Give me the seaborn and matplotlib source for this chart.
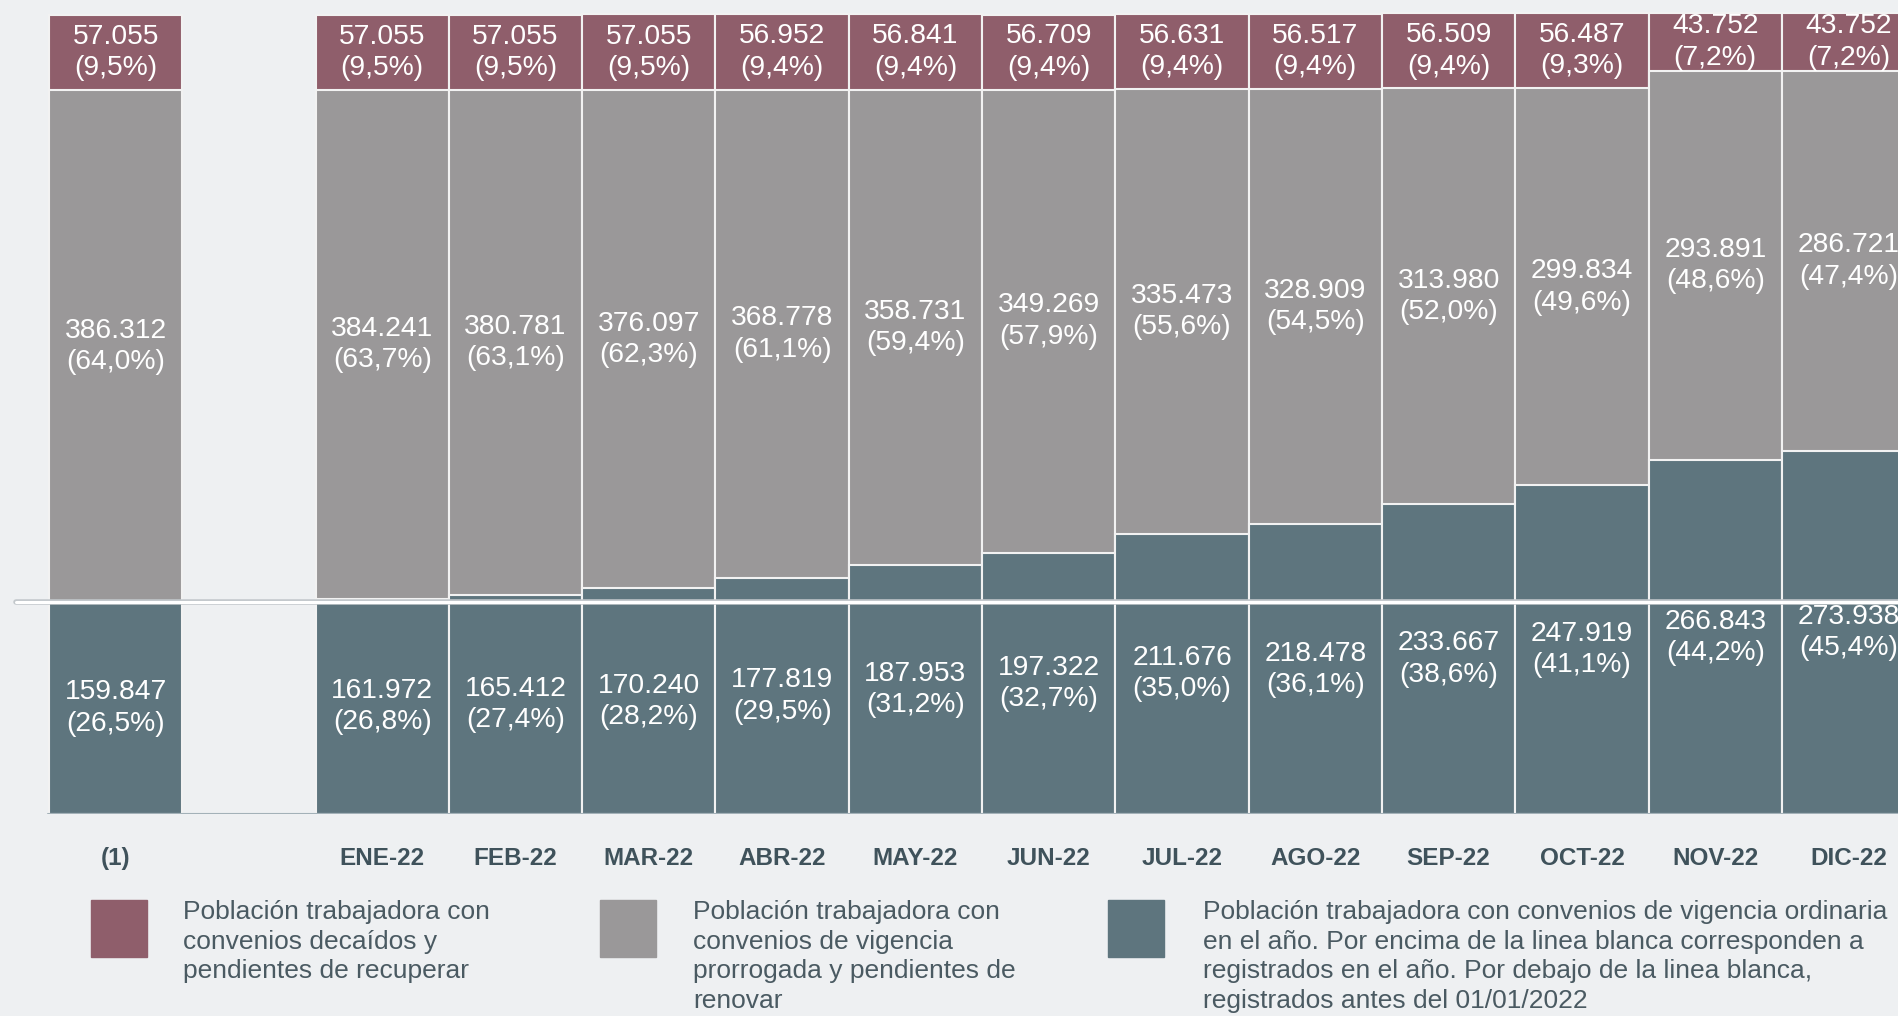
import pandas as pd
import seaborn as sns
import matplotlib.pyplot as plt
import matplotlib.patheffects as pe
from matplotlib.patches import Rectangle

# categorias del eje (la segunda va vacia, sin barra)
meses = ["(1)", " ", "ENE-22", "FEB-22", "MAR-22", "ABR-22", "MAY-22", "JUN-22",
         "JUL-22", "AGO-22", "SEP-22", "OCT-22", "NOV-22", "DIC-22"]
barras = ["(1)", "ENE-22", "FEB-22", "MAR-22", "ABR-22", "MAY-22", "JUN-22",
          "JUL-22", "AGO-22", "SEP-22", "OCT-22", "NOV-22", "DIC-22"]

decaidos = [57055, 57055, 57055, 57055, 56952, 56841, 56709, 56631, 56517,
            56509, 56487, 43752, 43752]
prorrogada = [386312, 384241, 380781, 376097, 368778, 358731, 349269, 335473,
              328909, 313980, 299834, 293891, 286721]
ordinaria = [159847, 161972, 165412, 170240, 177819, 187953, 197322, 211676,
             218478, 233667, 247919, 266843, 273938]

pct_decaidos = [9.5, 9.5, 9.5, 9.5, 9.4, 9.4, 9.4, 9.4, 9.4, 9.4, 9.3, 7.2, 7.2]
pct_prorrogada = [64.0, 63.7, 63.1, 62.3, 61.1, 59.4, 57.9, 55.6, 54.5, 52.0,
                  49.6, 48.6, 47.4]
pct_ordinaria = [26.5, 26.8, 27.4, 28.2, 29.5, 31.2, 32.7, 35.0, 36.1, 38.6,
                 41.1, 44.2, 45.4]

linea_blanca = 159847  # registrados antes del 01/01/2022

c_dec = "#8f5e6b"
c_pro = "#9a9899"
c_ord = "#5e757e"
fondo = "#eef0f2"
gris_texto = "#4a5a62"

df = pd.DataFrame({"mes": barras, "decaidos": decaidos,
                   "prorrogada": prorrogada, "ordinaria": ordinaria})
df["total"] = df["decaidos"] + df["prorrogada"] + df["ordinaria"]
df["hasta_prorrogada"] = df["prorrogada"] + df["ordinaria"]

sns.set_theme(style="white")
plt.rcParams["font.family"] = ["Liberation Sans", "DejaVu Sans"]

W, H = 1899, 1016
fig = plt.figure(figsize=(W / 100, H / 100), dpi=100, facecolor=fondo)
ax = fig.add_axes([0, (H - 814) / H, 1, 814 / H])
ax.set_facecolor(fondo)

# barras superpuestas: total, luego prorrogada+ordinaria, luego ordinaria
for col, color in [("total", c_dec), ("hasta_prorrogada", c_pro), ("ordinaria", c_ord)]:
    sns.barplot(data=df, x="mes", y=col, order=meses, color=color,
                saturation=1, width=1.0, edgecolor="#f2f2f2", linewidth=1.5,
                errorbar=None, ax=ax)

slot = 133.3
ax.set_xlim(-0.5 - 49 / slot, -0.5 + (W - 49) / slot)
ax.set_ylim(0, max(df["total"]) * 814 / 801)


def num(v):
    return f"{v:,}".replace(",", ".")


def pct(p):
    return f"({p:.1f}%)".replace(".", ",")


pos = {m: i for i, m in enumerate(meses)}
lab = dict(ha="center", va="center", color="white", fontsize=20.3,
           linespacing=1.27, zorder=6)
for i, m in enumerate(barras):
    x = pos[m]
    o, p, d = ordinaria[i], prorrogada[i], decaidos[i]
    ax.text(x, o / 2, f"{num(o)}\n{pct(pct_ordinaria[i])}", **lab)
    ax.text(x, o + p / 2, f"{num(p)}\n{pct(pct_prorrogada[i])}", **lab)
    ax.text(x, o + p + d / 2, f"{num(d)}\n{pct(pct_decaidos[i])}", **lab)

ax.axhline(linea_blanca, xmin=16 / W, color="white", lw=2.2, zorder=5,
           path_effects=[pe.Stroke(linewidth=4, foreground="#c3c8cc"), pe.Normal()])
ax.axhline(0, xmin=48 / W, color="#a3b1b8", lw=1.5, zorder=4)

ax.set_xlabel("")
ax.set_ylabel("")
ax.set_yticks([])
ax.tick_params(axis="x", length=0, pad=24, labelsize=17.5, labelcolor="#3f525b")
for t in ax.get_xticklabels():
    t.set_fontweight("bold")
sns.despine(ax=ax, left=True, bottom=True)

# leyenda
leyenda = [
    (91, 183, c_dec, "Población trabajadora con\nconvenios decaídos y\npendientes de recuperar"),
    (600, 693, c_pro, "Población trabajadora con\nconvenios de vigencia\nprorrogada y pendientes de\nrenovar"),
    (1108, 1203, c_ord, "Población trabajadora con convenios de vigencia ordinaria\n"
                        "en el año. Por encima de la linea blanca corresponden a\n"
                        "registrados en el año. Por debajo de la linea blanca,\n"
                        "registrados antes del 01/01/2022"),
]
for xc, xt, color, texto in leyenda:
    fig.add_artist(Rectangle((xc / W, 1 - 957 / H), 56 / W, 57 / H,
                             transform=fig.transFigure, color=color))
    fig.text(xt / W, 1 - 900 / H, texto, ha="left", va="top", fontsize=19,
             color=gris_texto, linespacing=1.3)

fig.savefig("out.png", dpi=100, facecolor=fondo)
